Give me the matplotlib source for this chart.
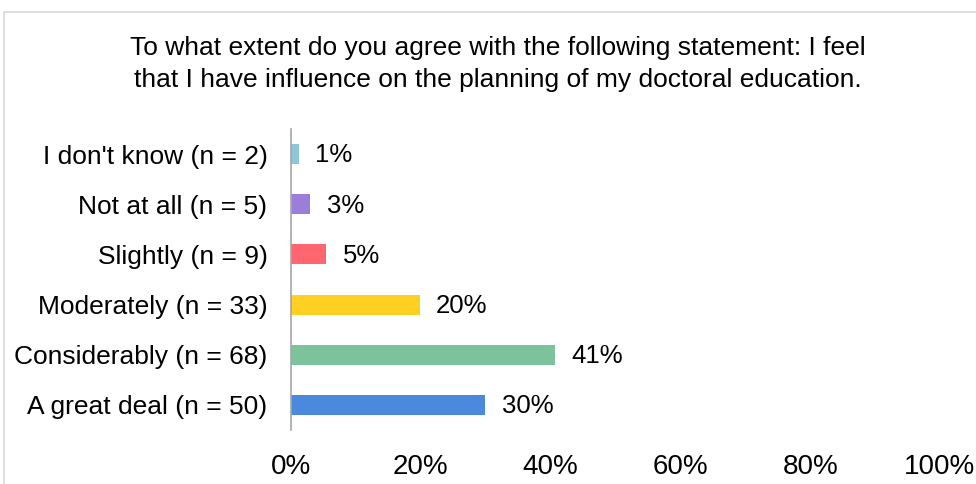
import matplotlib
matplotlib.use("Agg")
import matplotlib.pyplot as plt
from matplotlib.patches import Rectangle

categories = ["I don't know (n = 2)", "Not at all (n = 5)", "Slightly (n = 9)",
              "Moderately (n = 33)", "Considerably (n = 68)", "A great deal (n = 50)"]
values = [1.2, 3.0, 5.4, 19.8, 40.7, 29.9]
labels = ["1%", "3%", "5%", "20%", "41%", "30%"]
colors = ["#8EC7DA", "#9B7EDA", "#FF6670", "#FDD023", "#7CC29A", "#4A89DC"]
xticks = [0, 20, 40, 60, 80, 100]
title = ("To what extent do you agree with the following statement: I feel\n"
         "that I have influence on the planning of my doctoral education.")

plt.rcParams['font.family'] = ['Liberation Sans', 'DejaVu Sans']

fig = plt.figure(figsize=(9.76, 4.84), dpi=100)
fig.patches.append(Rectangle((4/976, -0.1), 1.1, 1 - 12/484 + 0.1, transform=fig.transFigure,
                             fill=False, edgecolor="#D9D9D9", linewidth=1.2))
ax = fig.add_axes([291/976, 1 - 430/484, 649/976, 301/484])

y = list(range(len(categories)))
ax.barh(y, values, height=0.4, color=colors)
for yi, v, lab in zip(y, values, labels):
    ax.annotate(lab, (v, yi), xytext=(12, -1), textcoords="offset points",
                va="center", ha="left", fontsize=18.5, color="#000000")

ax.set_ylim(len(categories) - 0.5, -0.5)
ax.set_xlim(0, 100)
ax.set_yticks(y)
ax.set_yticklabels(categories, fontsize=19)
ax.set_xticks(xticks)
ax.set_xticklabels([f"{t}%" for t in xticks], fontsize=20)
ax.tick_params(axis="both", length=0)
ax.tick_params(axis="x", pad=17)
ax.tick_params(axis="y", pad=17)
for s in ["top", "right", "bottom"]:
    ax.spines[s].set_visible(False)
ax.spines["left"].set_color("#A6A6A6")
ax.spines["left"].set_linewidth(1.2)

fig.text(498/976, 1 - 64/484, title, ha="center", va="center", fontsize=19,
         linespacing=1.4)

fig.savefig("out.png", dpi=100)
